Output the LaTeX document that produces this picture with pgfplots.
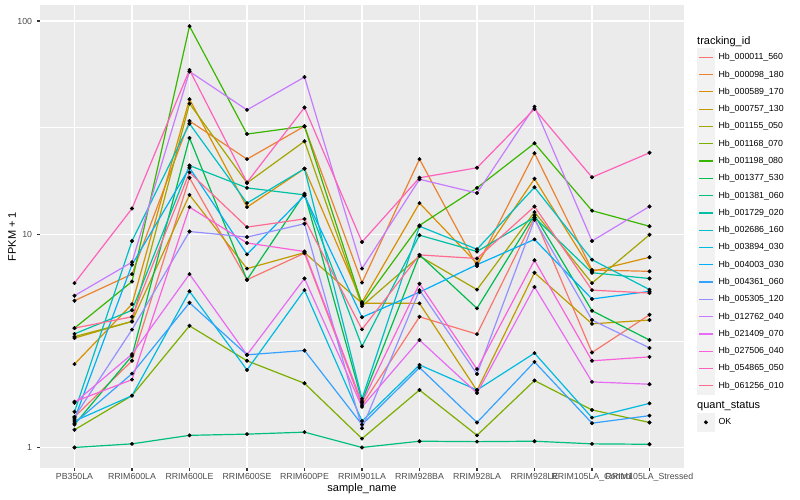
\documentclass[border=0pt]{standalone}
\usepackage{pgfplots}
\pgfplotsset{compat=1.18}
\usepackage{pgfplotstable}
\usepackage{fontspec}
\setmainfont{Liberation Sans}
\definecolor{c1}{HTML}{F8766D}
\definecolor{c2}{HTML}{EA8331}
\definecolor{c3}{HTML}{D89000}
\definecolor{c4}{HTML}{C09B00}
\definecolor{c5}{HTML}{A3A500}
\definecolor{c6}{HTML}{7CAE00}
\definecolor{c7}{HTML}{39B600}
\definecolor{c8}{HTML}{00BB4E}
\definecolor{c9}{HTML}{00BF7D}
\definecolor{c10}{HTML}{00C1A3}
\definecolor{c11}{HTML}{00BFC4}
\definecolor{c12}{HTML}{00BAE0}
\definecolor{c13}{HTML}{00B0F6}
\definecolor{c14}{HTML}{35A2FF}
\definecolor{c15}{HTML}{9590FF}
\definecolor{c16}{HTML}{C77CFF}
\definecolor{c17}{HTML}{E76BF3}
\definecolor{c18}{HTML}{FA62DB}
\definecolor{c19}{HTML}{FF62BC}
\definecolor{c20}{HTML}{FF6C91}
\definecolor{panel}{HTML}{EBEBEB}
\definecolor{keybg}{HTML}{F2F2F2}
\definecolor{ticktext}{HTML}{4D4D4D}
\definecolor{tickline}{HTML}{333333}

\pgfplotstableread{
x c1 c2 c3 c4 c5 c6 c7 c8 c9 c10 c11 c12 c13 c14 c15 c16 c17 c18 c19 c20
0 1.39 4.88 2.46 3.26 3.31 1.21 3.63 1.28 1.0 3.41 1.47 1.33 1.36 1.30 1.39 5.15 1.62 1.64 5.9 3.63
1 2.55 6.5 4.7 3.9 3.9 1.75 6.0 2.69 1.04 4.4 9.3 1.75 7.2 2.22 3.57 7.4 2.74 2.08 13.2 4.1
2 18.4 34 43 15.3 41 3.72 94.6 28.3 1.14 21 33 5.4 20.5 4.77 10.3 58 6.5 13.4 59 19.5
3 6.12 22.5 13.4 6.9 17.4 2.55 29.5 6.12 1.155 16.5 14.0 2.31 8.05 2.72 9.7 38.3 2.72 9.1 17.5 10.8
4 8.15 32.1 20.3 8.2 27.3 2.0 32.1 15.5 1.18 15.3 20.3 5.47 15.2 2.85 11.2 54.6 6.2 8.3 39.3 11.8
5 1.58 5.93 4.8 4.75 4.6 1.10 4.7 1.65 1.0 2.98 1.69 1.33 4.08 1.28 1.23 6.9 1.55 1.62 9.2 3.58
6 4.1 22.5 14.0 4.74 7.9 1.86 11.0 8.0 1.07 9.9 10.9 2.44 5.35 2.37 5.47 18.1 3.19 5.86 18.4 8.0
7 3.4 7.1 7.3 1.85 5.5 1.14 16.5 4.49 1.065 8.3 8.5 1.86 7.2 1.31 2.21 15.6 1.80 2.33 20.5 7.7
8 12.0 24.0 18.2 6.6 12.7 2.06 26.7 12.3 1.07 12.0 16.6 2.77 9.46 2.52 11.7 39.7 5.66 7.55 38.7 13.5
9 2.79 6.8 6.7 3.8 5.9 1.50 12.9 4.38 1.04 6.6 7.6 1.38 4.97 1.30 3.96 9.3 2.03 2.55 18.5 5.47
10 4.19 6.7 7.8 3.96 9.94 1.31 10.9 3.19 1.035 6.2 5.5 1.61 5.4 1.41 2.93 13.5 1.98 2.66 24.1 5.3
}\datatable

\newcommand\series[2]{\addplot[color=#1, line width=1.2pt] table[x=x,y=#1]{\datatable}; \addlegendentry{#2}}

\begin{document}
\begin{tikzpicture}
\path[use as bounding box] (0,0) rectangle (800pt,500pt);
\begin{axis}[
  at={(40pt,32pt)}, anchor=south west,
  scale only axis, width=644pt, height=463pt,
  xmin=-0.6, xmax=10.6,
  ymode=log, ymin=0.8012, ymax=118.9,
  axis background/.style={fill=panel},
  axis line style={draw=none},
  xtick={0,...,10},
  xticklabels={PB350LA,RRIM600LA,RRIM600LE,RRIM600SE,RRIM600PE,RRIM901LA,RRIM928BA,RRIM928LA,RRIM928LE,RRIM105LA\_Control,RRIM105LA\_Stressed},
  ytick={1,10,100}, yticklabels={1,10,100},
  minor ytick={3.16228,31.6228},
  xtick pos=bottom, ytick pos=left,
  xmajorgrids, ymajorgrids, yminorgrids,
  major grid style={white, line width=1.4pt},
  minor grid style={white, line width=0.7pt},
  tick align=outside,
  major tick length=2.75pt, minor tick length=0pt,
  tick style={tickline, line width=1.1pt},
  xticklabel style={font=\fontsize{8.8}{10}\selectfont, text=ticktext, inner sep=0pt, anchor=north, yshift=-2.5pt},
  yticklabel style={font=\fontsize{8.8}{10}\selectfont, text=ticktext, inner sep=0pt, anchor=east, xshift=-5pt},
  xlabel={sample\_name}, ylabel={FPKM + 1},
  every axis x label/.style={at={(axis description cs:0.5,-0.0443)}, anchor=center, font=\fontsize{11}{13}\selectfont},
  every axis y label/.style={at={(axis description cs:-0.0435,0.5)}, anchor=center, rotate=90, font=\fontsize{11}{13}\selectfont},
  clip=false,
  legend image code/.code={\fill[keybg] (0pt,-8.64pt) rectangle (17.28pt,8.64pt); \draw[line width=1.2pt] (1.7pt,0pt) -- (15.6pt,0pt);},
  legend style={at={(1,1)}, anchor=north west, xshift=12.7pt, yshift=-43.06pt,
    draw=none, fill=none, inner sep=0pt, outer sep=0pt,
    row sep=-1.19pt, column sep=3.4pt,
    nodes={inner sep=0pt, outer sep=0pt},
    font=\fontsize{8.8}{10}\selectfont},
  legend cell align=left,
]
\series{c1}{Hb\_000011\_560}
\series{c2}{Hb\_000098\_180}
\series{c3}{Hb\_000589\_170}
\series{c4}{Hb\_000757\_130}
\series{c5}{Hb\_001155\_050}
\series{c6}{Hb\_001168\_070}
\series{c7}{Hb\_001198\_080}
\series{c8}{Hb\_001377\_530}
\series{c9}{Hb\_001381\_060}
\series{c10}{Hb\_001729\_020}
\series{c11}{Hb\_002686\_160}
\series{c12}{Hb\_003894\_030}
\series{c13}{Hb\_004003\_030}
\series{c14}{Hb\_004361\_060}
\series{c15}{Hb\_005305\_120}
\series{c16}{Hb\_012762\_040}
\series{c17}{Hb\_021409\_070}
\series{c18}{Hb\_027506\_040}
\series{c19}{Hb\_054865\_050}
\series{c20}{Hb\_061256\_010}
\pgfplotsinvokeforeach{1,...,20}{
  \addplot[only marks, mark=*, mark size=1.8pt, black, forget plot] table[x=x,y=c#1]{\datatable};
}
\addlegendimage{empty legend}
\addlegendentry[minimum height=20.8pt]{}
\addlegendimage{legend image code/.code={\fill[keybg] (0pt,-8.64pt) rectangle (17.28pt,8.64pt); \fill[black] (8.64pt,0pt) circle (1.8pt);}}
\addlegendentry{OK}
\end{axis}
\node[anchor=base west, font=\fontsize{11}{13}\selectfont, inner sep=0pt] at (697pt,455.5pt) {tracking\_id};
\node[anchor=base west, font=\fontsize{11}{13}\selectfont, inner sep=0pt] at (697pt,91pt) {quant\_status};
\end{tikzpicture}
\end{document}
